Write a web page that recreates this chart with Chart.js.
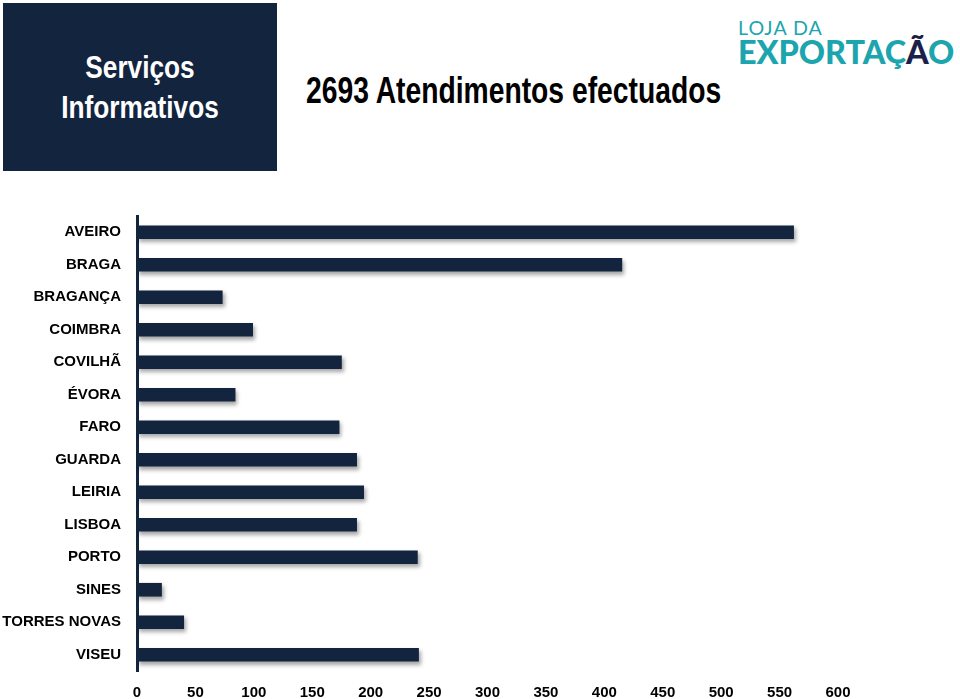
<!DOCTYPE html>
<html>
<head>
<meta charset="utf-8">
<script src="https://cdn.jsdelivr.net/npm/chart.js@4.4.0/dist/chart.umd.min.js"></script>
<style>
  body { margin: 0; background: #fff; width: 960px; height: 699px; overflow: hidden; position: relative;
         font-family: "Liberation Sans Narrow", "Arial Narrow", "Liberation Sans", Arial, sans-serif; }
  #box { position: absolute; left: 3px; top: 3px; width: 274px; height: 168px; background: #13243f;
         color: #fff; display: flex; align-items: center; justify-content: center; text-align: center; }
  #box div { font-size: 32px; line-height: 40px; font-weight: bold; transform: scaleX(0.82); white-space: nowrap; }
  #titulo { position: absolute; left: 306px; top: 70px; font-size: 36px; font-weight: bold; color: #000;
            transform: scaleX(0.785); transform-origin: left center; white-space: nowrap; }
  #logo { position: absolute; left: 738px; top: 14px; color: #1ca5ae; font-family: Lato, "Open Sans", sans-serif;
          transform: scaleX(0.98); transform-origin: left top; white-space: nowrap; }
  #logo .l1 { font-size: 20px; letter-spacing: 1px; line-height: 20px; font-weight: 400; margin-top: 3px; margin-bottom: -2px; }
  #logo .l2 { font-size: 33px; font-weight: 900; line-height: 32px; }
  #logo .l2 span { color: #1b1f4a; }
  #wrap { position: absolute; left: 0; top: 200px; width: 860px; height: 499px; }
</style>
</head>
<body>
<div id="box"><div>Serviços<br>Informativos</div></div>
<div id="titulo">2693 Atendimentos efectuados</div>
<div id="logo"><div class="l1">LOJA DA</div><div class="l2">EXPORTAÇ<span>Ã</span>O</div></div>
<div id="wrap"><canvas id="grafico"></canvas></div>
<script>
const lojas = ["AVEIRO", "BRAGA", "BRAGANÇA", "COIMBRA", "COVILHÃ", "ÉVORA", "FARO", "GUARDA",
  "LEIRIA", "LISBOA", "PORTO", "SINES", "TORRES NOVAS", "VISEU"];
const atendimentos = [562, 415, 73, 99, 175, 84, 173, 188, 194, 188, 240, 21, 40, 241];
const eixoMin = 0;
const eixoMax = 600;
const eixoPasso = 50;

const azul = "#13243f";
const fonte = "'Liberation Sans Narrow', 'Arial Narrow', 'Liberation Sans', Arial, sans-serif";

// sombra nas barras
const sombra = {
  id: "sombra",
  beforeDatasetDraw(chart) {
    const ctx = chart.ctx;
    ctx.save();
    ctx.shadowColor = "rgba(0,0,0,0.35)";
    ctx.shadowOffsetX = 2;
    ctx.shadowOffsetY = 3;
    ctx.shadowBlur = 4;
  },
  afterDatasetDraw(chart) {
    chart.ctx.restore();
  }
};

new Chart(document.getElementById("grafico").getContext("2d"), {
  type: "bar",
  data: {
    labels: lojas,
    datasets: [{
      data: atendimentos,
      backgroundColor: azul,
      barThickness: 13
    }]
  },
  options: {
    indexAxis: "y",
    responsive: true,
    maintainAspectRatio: false,
    animation: false,
    layout: { padding: { top: 16, right: 22, left: 0, bottom: 0 } },
    plugins: { legend: { display: false }, tooltip: { enabled: false } },
    scales: {
      x: {
        min: eixoMin,
        max: eixoMax,
        grid: { display: false, drawTicks: false },
        border: { display: false },
        ticks: {
          stepSize: eixoPasso,
          padding: 13,
          color: "#000",
          font: { family: fonte, size: 15, weight: "bold" }
        },
        afterFit(scale) {
          scale.height = 28;
          scale.paddingLeft = 0;
          scale.paddingRight = 0;
        }
      },
      y: {
        grid: { display: false, drawTicks: false },
        border: { display: true, color: azul, width: 3 },
        ticks: {
          padding: 16,
          color: "#000",
          font: { family: fonte, size: 15, weight: "bold" }
        },
        afterFit(scale) {
          scale.width = 137;
          scale.paddingTop = 0;
          scale.paddingBottom = 0;
        }
      }
    }
  },
  plugins: [sombra]
});
</script>
</body>
</html>
